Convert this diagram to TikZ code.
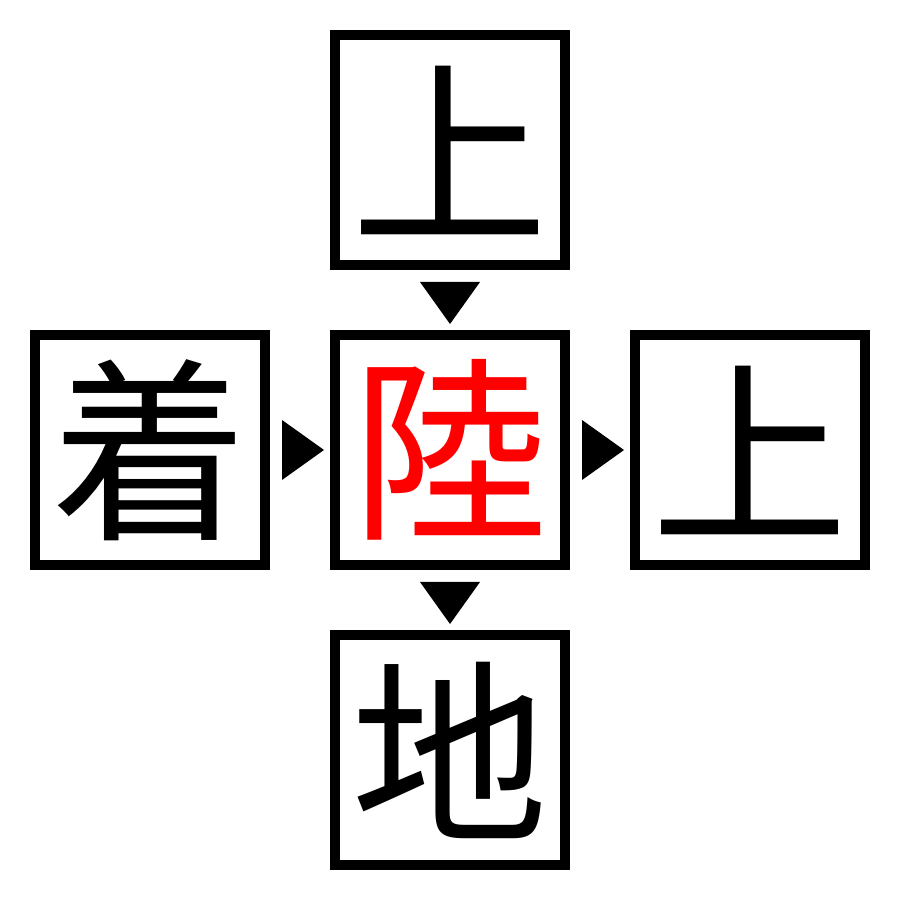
\documentclass[tikz,border=0pt]{standalone}
\usepackage{fontspec}
\usepackage{tikz}
\usetikzlibrary{calc}
\newfontfamily\cjk{Noto Sans CJK JP}
\tikzset{
  kbox/.style={draw, line width=0.1cm, minimum size=2.3cm, inner sep=0pt,
    font=\cjk\fontsize{56}{60}\selectfont},
  tri/.style={fill=black}
}

\begin{document}
\begin{tikzpicture}
            \useasboundingbox (0,0) rectangle (9,9);
            \node[kbox] (up) at (4.5,7.5) {上};
            \node[kbox] (ki) at (1.5,4.5) {着};
            \node[kbox, text=red] (ri) at (4.5,4.5) {陸};
            \node[kbox] (jo) at (7.5,4.5) {上};
            \node[kbox] (ch) at (4.5,1.5) {地};

            \coordinate (t1) at ($(up)!0.5!(ri)$);
            \coordinate (t2) at ($(ki)!0.5!(ri)$);
            \coordinate (t3) at ($(ri)!0.5!(jo)$);
            \coordinate (t4) at ($(ri)!0.5!(ch)$);
            \fill[tri] ($(t1)+(-0.3,0.18)$) -- ($(t1)+(0.3,0.18)$) -- ($(t1)+(0,-0.24)$) -- cycle;
            \fill[tri] ($(t2)+(-0.18,0.3)$) -- ($(t2)+(-0.18,-0.3)$) -- ($(t2)+(0.24,0)$) -- cycle;
            \fill[tri] ($(t3)+(-0.18,0.3)$) -- ($(t3)+(-0.18,-0.3)$) -- ($(t3)+(0.24,0)$) -- cycle;
            \fill[tri] ($(t4)+(-0.3,0.18)$) -- ($(t4)+(0.3,0.18)$) -- ($(t4)+(0,-0.24)$) -- cycle;
        \end{tikzpicture}
\end{document}
